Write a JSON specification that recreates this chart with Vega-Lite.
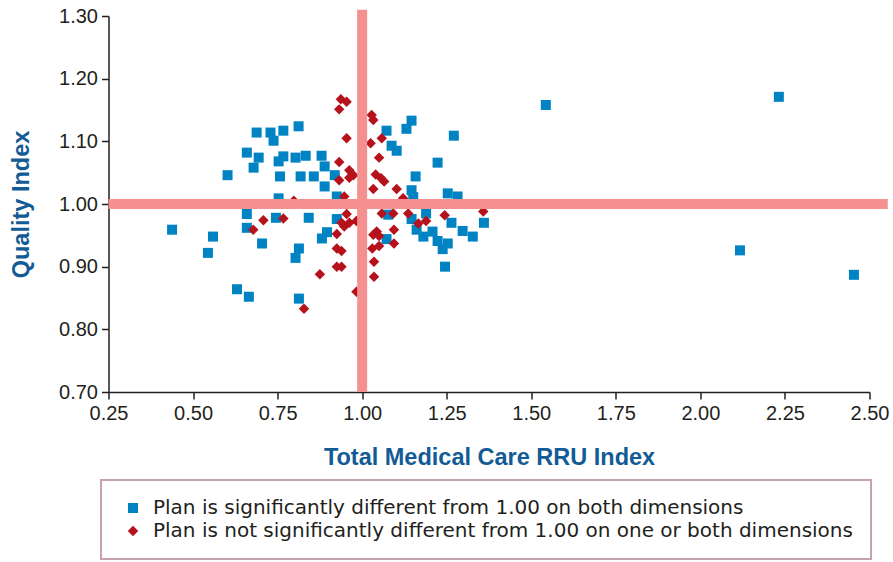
{
  "$schema": "https://vega.github.io/schema/vega-lite/v6.json",
  "width": 761,
  "height": 376,
  "autosize": {"type": "none"},
  "padding": {"left": 108.5, "top": 16, "right": 23.5, "bottom": 170},
  "background": "white",
  "config": {
    "view": {"stroke": null},
    "legend": {"strokeWidth": 2},
    "axis": {
      "grid": false,
      "domainColor": "#231f20",
      "domainWidth": 1.5,
      "tickColor": "#231f20",
      "tickWidth": 1.5,
      "tickSize": 7,
      "labelFont": "Liberation Sans",
      "labelFontSize": 20,
      "labelColor": "#231f20",
      "labelFlush": false,
      "labelOverlap": false,
      "titleFont": "Liberation Sans",
      "titleFontSize": 23.5,
      "titleFontWeight": "bold",
      "titleColor": "#135b94"
    }
  },
  "layer": [
    {
      "data": {
        "values": [
          {"rru": 0.438, "quality": 0.959, "group": "sig"},
          {"rru": 0.559, "quality": 0.948, "group": "sig"},
          {"rru": 0.544, "quality": 0.922, "group": "sig"},
          {"rru": 0.602, "quality": 1.046, "group": "sig"},
          {"rru": 0.630, "quality": 0.864, "group": "sig"},
          {"rru": 0.665, "quality": 0.852, "group": "sig"},
          {"rru": 0.659, "quality": 1.082, "group": "sig"},
          {"rru": 0.688, "quality": 1.114, "group": "sig"},
          {"rru": 0.694, "quality": 1.074, "group": "sig"},
          {"rru": 0.679, "quality": 1.058, "group": "sig"},
          {"rru": 0.659, "quality": 0.984, "group": "sig"},
          {"rru": 0.659, "quality": 0.962, "group": "sig"},
          {"rru": 0.704, "quality": 0.937, "group": "sig"},
          {"rru": 0.729, "quality": 1.114, "group": "sig"},
          {"rru": 0.738, "quality": 1.101, "group": "sig"},
          {"rru": 0.753, "quality": 1.068, "group": "sig"},
          {"rru": 0.767, "quality": 1.117, "group": "sig"},
          {"rru": 0.767, "quality": 1.076, "group": "sig"},
          {"rru": 0.757, "quality": 1.044, "group": "sig"},
          {"rru": 0.753, "quality": 1.009, "group": "sig"},
          {"rru": 0.745, "quality": 0.978, "group": "sig"},
          {"rru": 0.812, "quality": 1.124, "group": "sig"},
          {"rru": 0.803, "quality": 1.074, "group": "sig"},
          {"rru": 0.833, "quality": 1.077, "group": "sig"},
          {"rru": 0.818, "quality": 1.044, "group": "sig"},
          {"rru": 0.857, "quality": 1.044, "group": "sig"},
          {"rru": 0.842, "quality": 0.978, "group": "sig"},
          {"rru": 0.813, "quality": 0.929, "group": "sig"},
          {"rru": 0.803, "quality": 0.914, "group": "sig"},
          {"rru": 0.813, "quality": 0.849, "group": "sig"},
          {"rru": 0.880, "quality": 1.077, "group": "sig"},
          {"rru": 0.889, "quality": 1.060, "group": "sig"},
          {"rru": 0.919, "quality": 1.046, "group": "sig"},
          {"rru": 0.889, "quality": 1.028, "group": "sig"},
          {"rru": 0.925, "quality": 1.012, "group": "sig"},
          {"rru": 0.925, "quality": 0.976, "group": "sig"},
          {"rru": 0.881, "quality": 0.945, "group": "sig"},
          {"rru": 0.896, "quality": 0.955, "group": "sig"},
          {"rru": 1.146, "quality": 1.133, "group": "sig"},
          {"rru": 1.131, "quality": 1.120, "group": "sig"},
          {"rru": 1.072, "quality": 1.117, "group": "sig"},
          {"rru": 1.087, "quality": 1.093, "group": "sig"},
          {"rru": 1.102, "quality": 1.085, "group": "sig"},
          {"rru": 1.271, "quality": 1.109, "group": "sig"},
          {"rru": 1.223, "quality": 1.066, "group": "sig"},
          {"rru": 1.158, "quality": 1.044, "group": "sig"},
          {"rru": 1.146, "quality": 1.022, "group": "sig"},
          {"rru": 1.151, "quality": 1.011, "group": "sig"},
          {"rru": 1.253, "quality": 1.017, "group": "sig"},
          {"rru": 1.282, "quality": 1.012, "group": "sig"},
          {"rru": 1.077, "quality": 0.983, "group": "sig"},
          {"rru": 1.146, "quality": 0.976, "group": "sig"},
          {"rru": 1.189, "quality": 0.985, "group": "sig"},
          {"rru": 1.161, "quality": 0.959, "group": "sig"},
          {"rru": 1.181, "quality": 0.948, "group": "sig"},
          {"rru": 1.208, "quality": 0.956, "group": "sig"},
          {"rru": 1.223, "quality": 0.941, "group": "sig"},
          {"rru": 1.253, "quality": 0.937, "group": "sig"},
          {"rru": 1.238, "quality": 0.928, "group": "sig"},
          {"rru": 1.264, "quality": 0.970, "group": "sig"},
          {"rru": 1.297, "quality": 0.957, "group": "sig"},
          {"rru": 1.327, "quality": 0.948, "group": "sig"},
          {"rru": 1.360, "quality": 0.970, "group": "sig"},
          {"rru": 1.245, "quality": 0.900, "group": "sig"},
          {"rru": 1.072, "quality": 0.944, "group": "sig"},
          {"rru": 1.543, "quality": 1.158, "group": "sig"},
          {"rru": 2.232, "quality": 1.171, "group": "sig"},
          {"rru": 2.117, "quality": 0.926, "group": "sig"},
          {"rru": 2.454, "quality": 0.887, "group": "sig"},
          {"rru": 0.937, "quality": 1.167, "group": "nonsig"},
          {"rru": 0.954, "quality": 1.163, "group": "nonsig"},
          {"rru": 0.932, "quality": 1.151, "group": "nonsig"},
          {"rru": 0.954, "quality": 1.105, "group": "nonsig"},
          {"rru": 0.932, "quality": 1.067, "group": "nonsig"},
          {"rru": 0.962, "quality": 1.054, "group": "nonsig"},
          {"rru": 0.974, "quality": 1.046, "group": "nonsig"},
          {"rru": 0.962, "quality": 1.042, "group": "nonsig"},
          {"rru": 0.932, "quality": 1.038, "group": "nonsig"},
          {"rru": 0.947, "quality": 1.012, "group": "nonsig"},
          {"rru": 0.798, "quality": 1.005, "group": "nonsig"},
          {"rru": 0.708, "quality": 0.974, "group": "nonsig"},
          {"rru": 0.767, "quality": 0.977, "group": "nonsig"},
          {"rru": 0.678, "quality": 0.959, "group": "nonsig"},
          {"rru": 0.954, "quality": 0.984, "group": "nonsig"},
          {"rru": 0.939, "quality": 0.970, "group": "nonsig"},
          {"rru": 0.947, "quality": 0.964, "group": "nonsig"},
          {"rru": 0.962, "quality": 0.970, "group": "nonsig"},
          {"rru": 0.983, "quality": 0.973, "group": "nonsig"},
          {"rru": 0.925, "quality": 0.952, "group": "nonsig"},
          {"rru": 0.925, "quality": 0.929, "group": "nonsig"},
          {"rru": 0.939, "quality": 0.925, "group": "nonsig"},
          {"rru": 0.925, "quality": 0.900, "group": "nonsig"},
          {"rru": 0.939, "quality": 0.900, "group": "nonsig"},
          {"rru": 0.875, "quality": 0.888, "group": "nonsig"},
          {"rru": 0.983, "quality": 0.860, "group": "nonsig"},
          {"rru": 0.828, "quality": 0.833, "group": "nonsig"},
          {"rru": 1.028, "quality": 1.142, "group": "nonsig"},
          {"rru": 1.033, "quality": 1.134, "group": "nonsig"},
          {"rru": 1.025, "quality": 1.097, "group": "nonsig"},
          {"rru": 1.058, "quality": 1.105, "group": "nonsig"},
          {"rru": 1.050, "quality": 1.074, "group": "nonsig"},
          {"rru": 1.040, "quality": 1.047, "group": "nonsig"},
          {"rru": 1.056, "quality": 1.041, "group": "nonsig"},
          {"rru": 1.065, "quality": 1.036, "group": "nonsig"},
          {"rru": 1.033, "quality": 1.024, "group": "nonsig"},
          {"rru": 1.102, "quality": 1.024, "group": "nonsig"},
          {"rru": 1.121, "quality": 1.009, "group": "nonsig"},
          {"rru": 1.058, "quality": 0.985, "group": "nonsig"},
          {"rru": 1.092, "quality": 0.985, "group": "nonsig"},
          {"rru": 1.136, "quality": 0.985, "group": "nonsig"},
          {"rru": 1.244, "quality": 0.982, "group": "nonsig"},
          {"rru": 1.358, "quality": 0.988, "group": "nonsig"},
          {"rru": 1.166, "quality": 0.969, "group": "nonsig"},
          {"rru": 1.189, "quality": 0.973, "group": "nonsig"},
          {"rru": 1.043, "quality": 0.956, "group": "nonsig"},
          {"rru": 1.033, "quality": 0.951, "group": "nonsig"},
          {"rru": 1.050, "quality": 0.949, "group": "nonsig"},
          {"rru": 1.094, "quality": 0.959, "group": "nonsig"},
          {"rru": 1.094, "quality": 0.937, "group": "nonsig"},
          {"rru": 1.030, "quality": 0.929, "group": "nonsig"},
          {"rru": 1.050, "quality": 0.933, "group": "nonsig"},
          {"rru": 1.035, "quality": 0.908, "group": "nonsig"},
          {"rru": 1.035, "quality": 0.884, "group": "nonsig"}
        ]
      },
      "mark": {"type": "point", "filled": true, "opacity": 1, "strokeWidth": 0},
      "encoding": {
        "x": {
          "field": "rru",
          "type": "quantitative",
          "scale": {"domain": [0.25, 2.5], "nice": false, "zero": false},
          "axis": {
            "title": "Total Medical Care RRU Index",
            "values": [0.25, 0.5, 0.75, 1.0, 1.25, 1.5, 1.75, 2.0, 2.25, 2.5],
            "format": ".2f",
            "labelPadding": 4,
            "titlePadding": 22
          }
        },
        "y": {
          "field": "quality",
          "type": "quantitative",
          "scale": {"domain": [0.7, 1.3], "nice": false, "zero": false},
          "axis": {
            "title": "Quality Index",
            "values": [0.7, 0.8, 0.9, 1.0, 1.1, 1.2, 1.3],
            "format": ".2f",
            "labelPadding": 4,
            "titlePadding": 25
          }
        },
        "color": {
          "field": "group",
          "type": "nominal",
          "scale": {"domain": ["sig", "nonsig"], "range": ["#0083c3", "#b5121b"]},
          "legend": {
            "orient": "none",
            "legendX": -7.5,
            "legendY": 464,
            "title": null,
            "direction": "vertical",
            "padding": 18,
            "strokeColor": "#c4a2b2",
            "fillColor": "white",
            "symbolSize": 160,
            "symbolOffset": 4,
            "labelOffset": 10,
            "labelFont": "DejaVu Sans",
            "labelFontSize": 20,
            "labelColor": "#231f20",
            "labelLimit": 2000,
            "rowPadding": 3,
            "labelExpr": "datum.value == 'sig' ? 'Plan is significantly different from 1.00 on both dimensions' : 'Plan is not significantly different from 1.00 on one or both dimensions'"
          }
        },
        "shape": {
          "field": "group",
          "type": "nominal",
          "scale": {"domain": ["sig", "nonsig"], "range": ["square", "diamond"]},
          "legend": {
            "orient": "none",
            "legendX": -7.5,
            "legendY": 464,
            "title": null,
            "direction": "vertical",
            "padding": 18,
            "strokeColor": "#c4a2b2",
            "fillColor": "white",
            "symbolSize": 160,
            "symbolOffset": 4,
            "labelOffset": 10,
            "labelFont": "DejaVu Sans",
            "labelFontSize": 20,
            "labelColor": "#231f20",
            "labelLimit": 2000,
            "rowPadding": 3,
            "labelExpr": "datum.value == 'sig' ? 'Plan is significantly different from 1.00 on both dimensions' : 'Plan is not significantly different from 1.00 on one or both dimensions'"
          }
        },
        "size": {
          "field": "group",
          "type": "nominal",
          "scale": {"domain": ["sig", "nonsig"], "range": [100, 110]},
          "legend": null
        }
      }
    },
    {
      "data": {"values": [{"from": 0.25, "to": 2.554, "level": 1.0}]},
      "mark": {"type": "rule", "color": "#f4908f", "strokeWidth": 10},
      "encoding": {
        "x": {"field": "from", "type": "quantitative"},
        "x2": {"field": "to"},
        "y": {"field": "level", "type": "quantitative"}
      }
    },
    {
      "data": {"values": [{"level": 1.0, "from": 0.7, "to": 1.31}]},
      "mark": {"type": "rule", "color": "#f4908f", "strokeWidth": 10},
      "encoding": {
        "x": {"field": "level", "type": "quantitative"},
        "y": {"field": "from", "type": "quantitative"},
        "y2": {"field": "to"}
      }
    }
  ]
}
